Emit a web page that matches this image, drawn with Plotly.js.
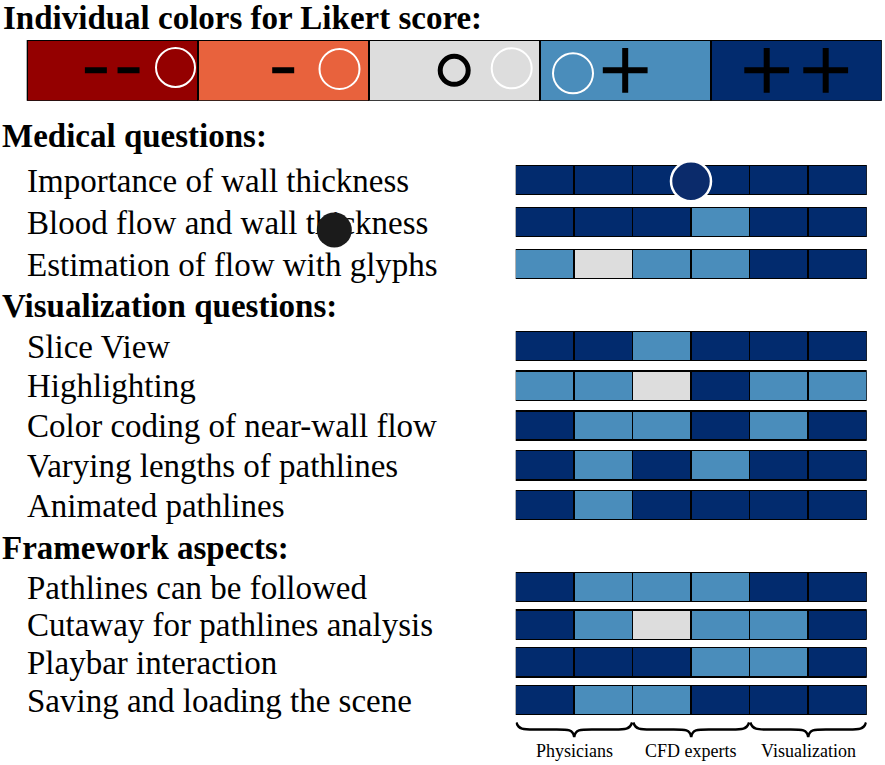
<!DOCTYPE html>
<html><head><meta charset="utf-8">
<script src="https://cdn.plot.ly/plotly-3.0.1.min.js"></script>
<style>html,body{margin:0;padding:0;background:#fff}</style>
</head><body><div id="chart" style="width:885px;height:765px"></div>
<script>
// ---- data ----
const likertLabels = ['--', '-', 'o', '+', '++'];
const likertColors = ['#940000', '#E8623D', '#DDDDDD', '#4A8DBB', '#022B6E'];
const titleText = 'Individual colors for Likert score:';
const groupTitles = ['Medical questions:', 'Visualization questions:', 'Framework aspects:'];

const medicalQuestions = ['Importance of wall thickness', 'Blood flow and wall thickness', 'Estimation of flow with glyphs'];
const medicalScores = [
  [5, 5, 5, 5, 5, 5],
  [5, 5, 5, 4, 5, 5],
  [4, 3, 4, 4, 5, 5]
];
const visualizationQuestions = ['Slice View', 'Highlighting', 'Color coding of near-wall flow', 'Varying lengths of pathlines', 'Animated pathlines'];
const visualizationScores = [
  [5, 5, 4, 5, 5, 5],
  [4, 4, 3, 5, 4, 4],
  [5, 4, 4, 5, 4, 5],
  [5, 4, 5, 4, 5, 5],
  [5, 4, 5, 5, 5, 5]
];
const frameworkQuestions = ['Pathlines can be followed', 'Cutaway for pathlines analysis', 'Playbar interaction', 'Saving and loading the scene'];
const frameworkScores = [
  [5, 4, 4, 4, 5, 5],
  [5, 4, 3, 4, 4, 5],
  [5, 5, 5, 4, 4, 5],
  [5, 4, 4, 5, 5, 5]
];
const expertGroups = ['Physicians', 'CFD experts', 'Visualization'];
const participantsPerGroup = 2;

// ---- layout helpers ----
const W = 885, H = 765;
const px = x => x / W;
const py = y => 1 - y / H;
const serif = 'Liberation Serif';

const groups = [
  {q: medicalQuestions, s: medicalScores, ax: 'y', key: 'yaxis', top: 159, bottom: 285, bw: 0.70},
  {q: visualizationQuestions, s: visualizationScores, ax: 'y2', key: 'yaxis2', top: 326.1, bottom: 524.9, bw: 0.74},
  {q: frameworkQuestions, s: frameworkScores, ax: 'y3', key: 'yaxis3', top: 568.2, bottom: 718.8, bw: 0.78}
];
const nCols = expertGroups.length * participantsPerGroup;

const traces = [];
const layout = {
  width: W, height: H,
  margin: {l: 0, r: 0, t: 0, b: 0},
  paper_bgcolor: '#fff', plot_bgcolor: 'rgba(0,0,0,0)',
  font: {family: serif, color: '#000'},
  barmode: 'stack',
  showlegend: false,
  xaxis: {domain: [px(515.7), px(866.7)], range: [0, nCols], anchor: 'y', visible: false, fixedrange: true},
  xaxis2: {domain: [px(26.7), px(881.7)], range: [0, likertLabels.length], anchor: 'y4', visible: false, fixedrange: true},
  yaxis4: {domain: [py(100.7), py(40)], range: [0, 1], anchor: 'x2', visible: false, fixedrange: true},
  shapes: [],
  annotations: []
};

groups.forEach(g => {
  for (let j = 0; j < nCols; j++) {
    traces.push({
      type: 'bar', orientation: 'h', xaxis: 'x', yaxis: g.ax,
      y: g.q, x: g.q.map(() => 1),
      width: g.bw,
      marker: {color: g.s.map(r => likertColors[r[j] - 1]), line: {color: '#000', width: 1.5}},
      hoverinfo: 'skip'
    });
  }
  layout[g.key] = {
    domain: [py(g.bottom), py(g.top)],
    anchor: 'free', position: px(26), side: 'right',
    type: 'category', range: [g.q.length - 0.5, -0.5],
    tickmode: 'array', tickvals: g.q, ticktext: g.q,
    showgrid: false, zeroline: false, showline: false, ticks: '',
    tickfont: {family: serif, size: 33, color: '#000'},
    fixedrange: true
  };
});

// legend bar
traces.push({
  type: 'bar', xaxis: 'x2', yaxis: 'y4',
  x: likertLabels.map((_, i) => i + 0.5), y: likertLabels.map(() => 1),
  width: 1,
  marker: {color: likertColors, line: {color: '#000', width: 2}},
  hoverinfo: 'skip'
});

// legend symbols (line/cross symbols are drawn 1.4x the marker size)
const glyph = {
  '-': {symbol: 'line-ew', size: 15.7, width: 6, gap: 0.191},
  '+': {symbol: 'cross-thin', size: 32, width: 6, gap: 0.345},
  'o': {symbol: 'circle-open', size: 28, width: 5, gap: 0}
};
const symX = [], symS = [], symSize = [], symW = [];
likertLabels.forEach((lab, i) => {
  const chars = lab.split('');
  chars.forEach((c, k) => {
    const sp = glyph[c];
    symX.push(i + 0.5 + (k - (chars.length - 1) / 2) * sp.gap);
    symS.push(sp.symbol); symSize.push(sp.size); symW.push(sp.width);
  });
});
traces.push({
  type: 'scatter', mode: 'markers', xaxis: 'x2', yaxis: 'y4',
  x: symX, y: symX.map(() => 0.5),
  marker: {symbol: symS, size: symSize, color: '#000', opacity: 1, line: {color: '#000', width: symW}},
  hoverinfo: 'skip'
});

// decorative circles seen in the reference
const rings = [[175.5, 67.5, 19.5], [339.5, 69, 20], [511.7, 68.3, 20], [573, 73.3, 20]];
rings.forEach(([cx, cy, r]) => layout.shapes.push({
  type: 'circle', xref: 'paper', yref: 'paper',
  x0: px(cx - r), x1: px(cx + r), y0: py(cy + r), y1: py(cy - r),
  line: {color: '#fff', width: 2}, fillcolor: 'rgba(0,0,0,0)'
}));
layout.shapes.push({
  type: 'circle', xref: 'paper', yref: 'paper',
  x0: px(691 - 20), x1: px(691 + 20), y0: py(181.3 + 20), y1: py(181.3 - 20),
  line: {color: '#fff', width: 2.5}, fillcolor: '#0B2B6B'
});
layout.shapes.push({
  type: 'circle', xref: 'paper', yref: 'paper',
  x0: px(334.3 - 17.5), x1: px(334.3 + 17.5), y0: py(230 + 17.5), y1: py(230 - 17.5),
  line: {width: 0}, fillcolor: '#1B1B1B'
});

// braces under the participant groups
const yt = py(722.5), ym = py(729.5), yb = py(737);
expertGroups.forEach((name, g) => {
  const x0 = g * participantsPerGroup + 0.01, x1 = (g + 1) * participantsPerGroup - 0.01;
  const xm = (x0 + x1) / 2;
  const path = `M${x0},${yt} C${x0 + 0.04},${ym} ${x0 + 0.12},${ym} ${x0 + 0.3},${ym} ` +
    `L${xm - 0.3},${ym} C${xm - 0.1},${ym} ${xm - 0.02},${ym} ${xm},${yb} ` +
    `C${xm + 0.02},${ym} ${xm + 0.1},${ym} ${xm + 0.3},${ym} ` +
    `L${x1 - 0.3},${ym} C${x1 - 0.12},${ym} ${x1 - 0.04},${ym} ${x1},${yt}`;
  layout.shapes.push({type: 'path', xref: 'x', yref: 'paper', path: path, line: {color: '#000', width: 2.5}});
  layout.annotations.push({
    xref: 'x', yref: 'paper', x: g * participantsPerGroup + participantsPerGroup / 2, y: py(751),
    text: name, showarrow: false, xanchor: 'center', yanchor: 'middle',
    font: {family: serif, size: 18, color: '#000'}
  });
});

// titles
layout.annotations.push({
  xref: 'paper', yref: 'paper', x: px(3), y: 1, xanchor: 'left', yanchor: 'top',
  borderpad: 0, borderwidth: 0,
  text: '<b>' + titleText + '</b>', showarrow: false, font: {family: serif, size: 33, color: '#000'}
});
const headY = [135.8, 306.3, 547.5];
groupTitles.forEach((t, i) => layout.annotations.push({
  xref: 'paper', yref: 'paper', x: px(0), y: py(headY[i]), xanchor: 'left', yanchor: 'middle',
  text: '<b>' + t + '</b>', showarrow: false, font: {family: serif, size: 33, color: '#000'}
}));

Plotly.newPlot('chart', traces, layout, {displayModeBar: false, staticPlot: true});
</script>
</body></html>
